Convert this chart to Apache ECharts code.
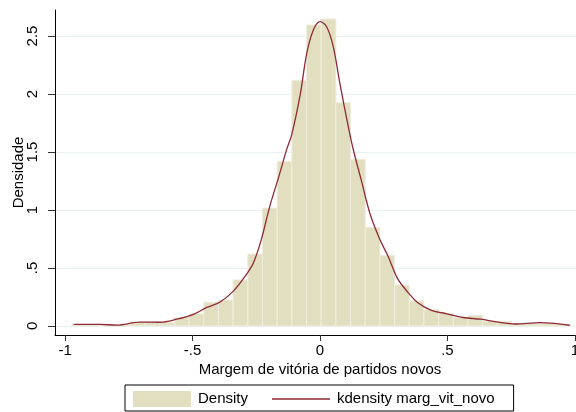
<!DOCTYPE html>
<html lang="pt">
<head>
    <meta charset="utf-8"/>
    <title>Margem de vitória de partidos novos</title>
    <script src="https://cdn.jsdelivr.net/npm/echarts@6/dist/echarts.min.js"></script>
</head>
<body style="margin:0;background:#fff">
<div id="chart" style="width:576px;height:412px"></div>
<script type="text/javascript">
    // histograma: inicio do primeiro bin, largura do bin, densidade de cada bin
    var binStart = -0.9745;
    var binWidth = 0.0576;
    var binHeights = [0.012, 0.012, 0.012, 0.01, 0.035, 0.035, 0.03, 0.07, 0.105, 0.205,
        0.224, 0.397, 0.62, 1.016, 1.42, 2.118, 2.595, 2.647, 1.925, 1.438,
        0.848, 0.609, 0.353, 0.216, 0.14, 0.109, 0.074, 0.09, 0.042, 0.04,
        0.02, 0.02, 0.02, 0.012];

    // curva kdensity (x, densidade)
    var kdX = [-0.967, -0.863, -0.797, -0.706, -0.627, -0.562, -0.497, -0.444, -0.392, -0.340,
        -0.287, -0.262, -0.231, -0.196, -0.164, -0.131, -0.111, -0.078, -0.052, -0.026,
        0, 0.026, 0.052, 0.078, 0.111, 0.131, 0.164, 0.196, 0.235, 0.268,
        0.304, 0.345, 0.384, 0.437, 0.497, 0.562, 0.631, 0.693, 0.765, 0.863,
        0.928, 0.980];
    var kdY = [0.013, 0.014, 0.007, 0.033, 0.032, 0.058, 0.1, 0.16, 0.207, 0.30,
        0.45, 0.54, 0.74, 1.04, 1.27, 1.52, 1.65, 1.99, 2.351, 2.552,
        2.623, 2.58, 2.408, 2.092, 1.718, 1.517, 1.24, 0.97, 0.745, 0.597,
        0.41, 0.29, 0.20, 0.135, 0.105, 0.073, 0.058, 0.035, 0.017, 0.029,
        0.02, 0.006];

    var xTicks = [-1, -0.5, 0, 0.5, 1];
    var yTicks = [0, 0.5, 1, 1.5, 2, 2.5];

    var bars = [];
    for (var i = 0; i < binHeights.length; i++) {
        var x0 = binStart + i * binWidth;
        bars.push([x0, x0 + binWidth, binHeights[i]]);
    }
    var kd = [];
    for (var j = 0; j < kdX.length; j++) {
        kd.push([kdX[j], kdY[j]]);
    }

    // rotulos no estilo Stata: .5 em vez de 0.5
    function stataFmt(v) {
        return String(v).replace('0.', '.');
    }

    var font = 'Liberation Sans, Arial, sans-serif';
    var lineColor = '#8e2a36';
    var barColor = '#e2dfc0';
    var myChart = echarts.init(document.getElementById('chart'));
    var option = {
        backgroundColor: '#fff',
        animation: false,
        grid: {left: 55, right: -9, top: 10, bottom: 77, outerBoundsMode: 'none', containLabel: false},
        xAxis: {
            type: 'value',
            min: -1.04,
            max: 1.04,
            name: 'Margem de vitória de partidos novos',
            nameLocation: 'middle',
            nameGap: 27,
            nameMoveOverlap: false,
            nameTextStyle: {color: '#000', fontSize: 15, fontFamily: font},
            axisLine: {show: true, onZero: false, lineStyle: {color: '#000', width: 1}},
            axisTick: {show: true, length: 6, customValues: xTicks, lineStyle: {color: '#333'}},
            axisLabel: {
                customValues: xTicks, margin: 8, color: '#000', fontSize: 15, fontFamily: font,
                formatter: stataFmt
            },
            splitLine: {show: false}
        },
        yAxis: {
            type: 'value',
            min: -0.078,
            max: 2.724,
            name: 'Densidade',
            nameLocation: 'middle',
            nameRotate: 90,
            nameGap: 29,
            nameMoveOverlap: false,
            nameTextStyle: {color: '#000', fontSize: 15, fontFamily: font},
            axisLine: {show: true, onZero: false, lineStyle: {color: '#000', width: 1}},
            axisTick: {show: true, length: 7, customValues: yTicks, lineStyle: {color: '#333'}},
            axisLabel: {
                customValues: yTicks, rotate: 90, margin: 15, color: '#000', fontSize: 15, fontFamily: font,
                formatter: stataFmt
            },
            splitLine: {show: true, lineStyle: {color: '#e8f0f2', width: 1}}
        },
        legend: {
            left: 125,
            top: 385,
            padding: [6, 19, 4, 8],
            itemGap: 24,
            itemWidth: 58,
            itemHeight: 16,
            borderColor: '#000',
            borderWidth: 1,
            borderRadius: 0,
            textStyle: {color: '#000', fontSize: 15, fontFamily: font, padding: [0, 0, 0, 2]},
            data: [
                {name: 'Density', icon: 'rect', itemStyle: {color: barColor, borderWidth: 0}},
                {
                    name: 'kdensity marg_vit_novo',
                    icon: 'path://M0,0L58,0L58,1.3L0,1.3Z',
                    itemStyle: {color: lineColor, borderWidth: 0}
                }
            ]
        },
        series: [
            {
                name: 'Density',
                type: 'custom',
                itemStyle: {color: barColor},
                encode: {x: [0, 1], y: 2},
                renderItem: function (params, api) {
                    var p0 = api.coord([api.value(0), api.value(2)]);
                    var p1 = api.coord([api.value(1), 0]);
                    return {
                        type: 'rect',
                        shape: {x: p0[0], y: p0[1], width: p1[0] - p0[0], height: p1[1] - p0[1]},
                        style: {fill: barColor, stroke: '#efeddf', lineWidth: 1}
                    };
                },
                data: bars
            },
            {
                name: 'kdensity marg_vit_novo',
                type: 'line',
                smooth: 0.35,
                symbol: 'none',
                lineStyle: {color: lineColor, width: 1.3},
                itemStyle: {color: lineColor},
                data: kd
            }
        ]
    };
    myChart.setOption(option);
</script>
</body>
</html>
